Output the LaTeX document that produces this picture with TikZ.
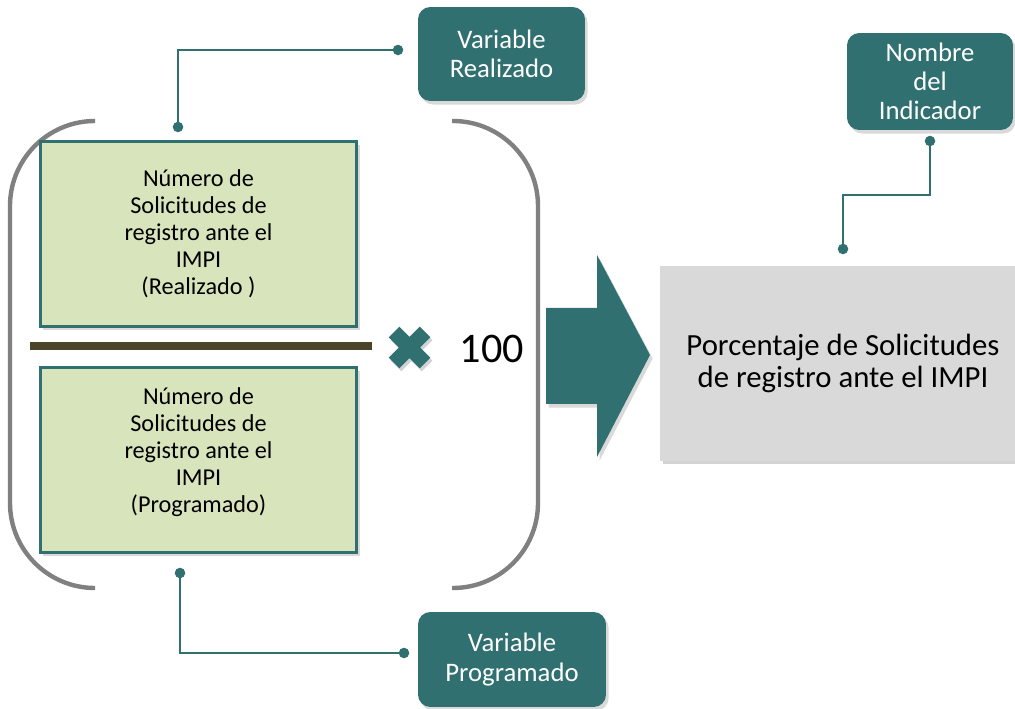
\documentclass[tikz,border=0pt]{standalone}
\usepackage{fontspec}
\setmainfont{Carlito}
\usetikzlibrary{shadows}
\definecolor{tealbox}{RGB}{49,112,113}
\definecolor{greenfill}{RGB}{216,228,188}
\definecolor{grayfill}{RGB}{217,217,217}
\definecolor{olive}{RGB}{74,69,42}
\definecolor{bracketgray}{RGB}{128,128,128}

\tikzset{
  varbox/.style={draw=none, fill=tealbox, rounded corners=7pt, text=white, align=center,
    inner sep=0pt, font=\fontsize{15.2}{16.6}\selectfont,
    drop shadow={opacity=0.3, shadow xshift=1.5pt, shadow yshift=-2pt}},
  databox/.style={draw=tealbox, line width=1.7pt, fill=greenfill, align=center,
    inner sep=0pt, minimum width=6.34cm, minimum height=3.7cm,
    font=\fontsize{13.8}{15.3}\selectfont,
    drop shadow={opacity=0.3, shadow xshift=1.5pt, shadow yshift=-2pt}},
  conn/.style={tealbox, line width=1.1pt},
  dot/.style={fill=tealbox, draw=none},
}

\begin{document}
\begin{tikzpicture}[x=0.02cm,y=-0.02cm]
                \useasboundingbox (0,0) rectangle (1015,709);

                % brackets
                \draw[bracketgray, line width=2.5pt, rounded corners=1.7cm] (95,121) -- (10,121) -- (10,588) -- (95,588);
                \draw[bracketgray, line width=2.5pt, rounded corners=1.7cm] (452,121) -- (538,121) -- (538,588) -- (452,588);

                \node[databox] (realizado) at (198.5,234) {N\'umero de\\Solicitudes de\\registro ante el\\IMPI\\(Realizado )};
                \node[databox] (programado) at (198.5,460) {N\'umero de\\Solicitudes de\\registro ante el\\IMPI\\(Programado)\\[-4pt]~};

                \draw[olive, line width=4.6pt] (30,346) -- (372,346);

                % times sign
                \draw[black!35, line width=8.5pt, opacity=0.5] (396,335) -- (427,366) (396,366) -- (427,335);
                \draw[tealbox, line width=8.5pt] (394,332) -- (425,363) (394,363) -- (425,332);
                \node[font=\fontsize{24}{28}\selectfont] (cien) at (492,349) {100};

                % big arrow
                \fill[tealbox, drop shadow={opacity=0.3, shadow xshift=1.5pt, shadow yshift=-2pt}]
                  (546,308) -- (597,308) -- (597,255) -- (650,355) -- (597,457) -- (597,404) -- (546,404) -- cycle;

                \node[fill=grayfill, align=center, inner sep=0pt, minimum width=7.32cm, minimum height=3.9cm,
                  font=\fontsize{17.5}{18.3}\selectfont,
                  drop shadow={opacity=0.35, shadow xshift=1.5pt, shadow yshift=-2pt}] (porcentaje) at (843,363.5)
                  {Porcentaje de Solicitudes\\de registro ante el IMPI};

                \node[varbox, minimum width=3.34cm, minimum height=1.88cm] (varReal) at (501.5,54) {Variable\\Realizado};
                \node[varbox, minimum width=3.76cm, minimum height=1.9cm] (varProg) at (512,659.5) {Variable\\Programado};
                \node[varbox, minimum width=3.32cm, minimum height=1.94cm] (nombre) at (930,81.5) {Nombre\\del\\Indicador};

                % connectors
                \coordinate (realDot) at (178,127);
                \coordinate (varRealDot) at (398,50);
                \coordinate (progDot) at (180,573);
                \coordinate (varProgDot) at (404,653);
                \coordinate (nombreDot) at (930,141);
                \coordinate (porcDot) at (843,249);
                \draw[conn] (realDot) |- (varRealDot);
                \draw[conn] (progDot) |- (varProgDot);
                \draw[conn] (nombreDot) -- ++(0,54) -| (porcDot);
                \foreach \d in {realDot,varRealDot,progDot,varProgDot,nombreDot,porcDot}
                  \fill[dot] (\d) circle (3pt);
\end{tikzpicture}
\end{document}
